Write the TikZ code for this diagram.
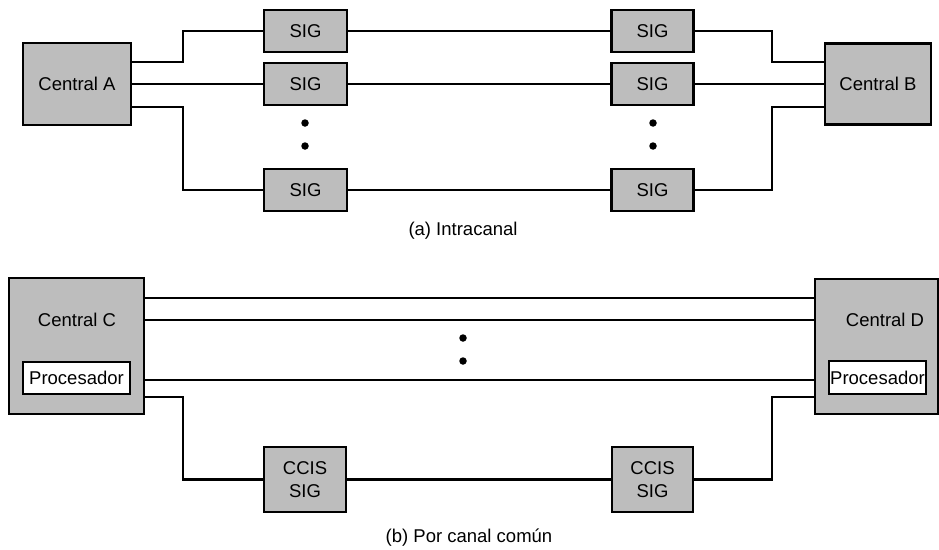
\documentclass[tikz,border=0pt]{standalone}
\usepackage{fontspec}
\setmainfont{Liberation Sans}
\begin{document}
\begin{tikzpicture}[x=1pt,y=-1pt,
  gbox/.style={draw=black,line width=2.8pt,fill=black!26,inner sep=0pt,
    font=\fontsize{18.5}{23}\selectfont,align=center},
  wbox/.style={draw=black,line width=2pt,fill=white,inner sep=0pt,
    font=\fontsize{18.5}{23}\selectfont},
  lbl/.style={inner sep=0pt,font=\fontsize{18.5}{23}\selectfont},
  wire/.style={line width=2.3pt,line join=miter},
  dotn/.style={circle,fill=black,inner sep=0pt,minimum size=7.5pt}]
\useasboundingbox (0,0) rectangle (939,549);
% ---------- (a)
\node[gbox,minimum width=108pt,minimum height=82pt] (A) at (77,84) {Central A};
\node[gbox,minimum width=106pt,minimum height=81pt] (B) at (878,84) {Central B};
\node[gbox,minimum width=83pt,minimum height=42pt] (S1) at (305.5,31) {SIG};
\node[gbox,minimum width=83pt,minimum height=42pt] (S2) at (305.5,84) {SIG};
\node[gbox,minimum width=83pt,minimum height=42pt] (S3) at (305.5,190) {SIG};
\node[gbox,minimum width=82pt,minimum height=42pt] (R1) at (652.5,31) {SIG};
\node[gbox,minimum width=82pt,minimum height=42pt] (R2) at (652.5,84) {SIG};
\node[gbox,minimum width=82pt,minimum height=42pt] (R3) at (652.5,190) {SIG};
\node[dotn] (da1) at (305,123) {};
\node[dotn] (da2) at (305,146) {};
\node[dotn] (db1) at (653,123) {};
\node[dotn] (db2) at (653,146) {};
\draw[wire] (A.east |- 0,62) -- (183,62) |- (S1.west);
\draw[wire] (A.east |- 0,84) -- (S2.west);
\draw[wire] (A.east |- 0,107) -- (183,107) |- (S3.west);
\draw[wire] (S1.east) -- (R1.west);
\draw[wire] (S2.east) -- (R2.west);
\draw[wire] (S3.east) -- (R3.west);
\draw[wire] (R1.east) -| (772,62) -- (B.west |- 0,62);
\draw[wire] (R2.east) -- (B.west |- 0,84);
\draw[wire] (R3.east) -| (772,107) -- (B.west |- 0,107);
\node[lbl] (capa) at (463,231) {(a) Intracanal};
% ---------- (b)
\node[gbox,minimum width=135pt,minimum height=136pt] (C) at (76.5,346) {};
\node[lbl] (Ct) at (77,320) {Central C};
\node[wbox,minimum width=107pt,minimum height=32pt] (PC) at (76.5,378) {Procesador};
\node[gbox,minimum width=123pt,minimum height=135pt] (D) at (876.5,346.5) {};
\node[lbl] (Dt) at (885,320) {Central D};
\node[wbox,minimum width=97pt,minimum height=33pt] (PD) at (877.5,377.5) {Procesador};
\node[gbox,minimum width=82pt,minimum height=65pt] (K1) at (305,479.5) {CCIS\\SIG};
\node[gbox,minimum width=81pt,minimum height=65pt] (K2) at (652.5,479.5) {CCIS\\SIG};
\node[dotn] (dc1) at (463,338) {};
\node[dotn] (dc2) at (463,361) {};
\draw[wire] (C.east |- 0,298) -- (D.west |- 0,298);
\draw[wire] (C.east |- 0,320) -- (D.west |- 0,320);
\draw[wire] (C.east |- 0,380) -- (D.west |- 0,380);
\draw[wire] (C.east |- 0,397) -- (183,397) |- (K1.west);
\draw[wire] (K1.east) -- (K2.west);
\draw[wire] (K2.east) -| (772,397) -- (D.west |- 0,397);
\node[lbl] (capb) at (469,538) {(b) Por canal común};
\end{tikzpicture}
\end{document}
